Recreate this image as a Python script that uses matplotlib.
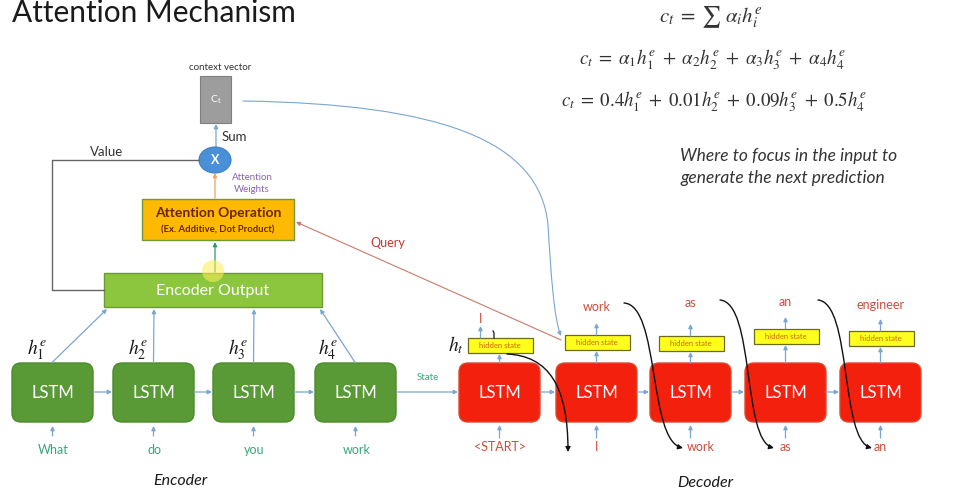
import matplotlib.pyplot as plt
from matplotlib.patches import FancyBboxPatch, Rectangle, Ellipse, Circle, FancyArrowPatch
from matplotlib.path import Path

plt.rcParams['font.family'] = ['Lato', 'DejaVu Sans']
plt.rcParams['mathtext.fontset'] = 'stix'

# content
encoder_words = ["What", "do", "you", "work"]
decoder_inputs = ["<START>", "I", "work", "as", "an"]
decoder_outputs = ["I", "work", "as", "an", "engineer"]
h_labels = [r"$h_1^e$", r"$h_2^e$", r"$h_3^e$", r"$h_4^e$"]
weights = ["0.4", "0.01", "0.09", "0.5"]

# layout (pixel coords of the slide)
enc_x = [12, 113, 213, 315]
dec_x = [459, 556, 650, 745, 840]
hs_y = [338, 335, 336, 329, 331]
out_y = [319, 307, 303, 302, 305]
box_w, box_top, box_h = 81, 363, 59

BLUE = '#7aa6d0'
fig = plt.figure(figsize=(9.8, 5.0), dpi=100)
ax = fig.add_axes([0, 0, 1, 1])
ax.set_xlim(0, 980)
ax.set_ylim(500, 0)
ax.axis('off')


def arrow(x0, y0, x1, y1, color=BLUE, lw=0.9, ms=6):
    ax.add_patch(FancyArrowPatch((x0, y0), (x1, y1), arrowstyle='-|>',
                                 mutation_scale=ms, color=color, lw=lw,
                                 shrinkA=0, shrinkB=0))


def curve(pts, color, lw=1.0, ms=7):
    codes = [Path.MOVETO] + [Path.CURVE4] * (len(pts) - 1)
    ax.add_patch(FancyArrowPatch(path=Path(pts, codes), arrowstyle='-|>',
                                 mutation_scale=ms, color=color, lw=lw))


ax.text(12, 13, "Attention Mechanism", fontsize=21.5, color='#1a1a1a',
        va='center', ha='left')

# equations
SP = r"\;"
ax.text(711, 17, r"$c_t" + SP + "=" + SP + r"\sum\;\alpha_i h_i^e$", fontsize=15,
        color='#333333', ha='center', va='center')
terms = (SP + "+" + SP).join(r"\alpha_%d h_%d^e" % (i + 1, i + 1) for i in range(4))
ax.text(713, 60, r"$c_t" + SP + "=" + SP + terms + "$", fontsize=13.8, color='#333333',
        ha='center', va='center')
terms = (SP + "+" + SP).join(r"%sh_%d^e" % (w, i + 1) for i, w in enumerate(weights))
ax.text(714, 102, r"$c_t" + SP + "=" + SP + terms + "$", fontsize=13.6, color='#333333',
        ha='center', va='center')
ax.text(680, 156, "Where to focus in the input to", fontsize=12.5, style='italic',
        color='#333333', va='center')
ax.text(680, 178, "generate the next prediction", fontsize=12.5, style='italic',
        color='#333333', va='center')

# context vector
ax.text(220, 68, "context vector", fontsize=7, color='#333333', ha='center', va='center')
ax.add_patch(Rectangle((200, 76), 31, 47, fc='#9d9d9d', ec='#7f7f7f', lw=0.8))
ax.text(215.5, 100, r"$\mathregular{C_t}$", fontsize=7.5, color='white', ha='center', va='center')
arrow(216, 148, 216, 124)
ax.text(222, 137, "Sum", fontsize=9.5, color='#333333', va='center')

# multiply node
ax.add_patch(Ellipse((215, 160), 32, 26, fc='#4a90d9', ec='#3f7fc0', lw=0.8))
ax.text(215, 160, "X", fontsize=9, color='white', ha='center', va='center', fontweight='bold')
ax.plot([199, 52, 52, 104], [160, 160, 290, 290], color='#666666', lw=1.0)
ax.text(90, 152, "Value", fontsize=9.5, color='#333333', va='center')
ax.text(252, 178, "Attention", fontsize=7, color='#8a63b0', ha='center', va='center')
ax.text(252, 190, "Weights", fontsize=7, color='#8a63b0', ha='center', va='center')
arrow(215, 198, 215, 173, color='#f0a060')

# attention operation
ax.add_patch(Rectangle((142, 199), 152, 41, fc='#ffb900', ec='#6f9a3a', lw=1.0))
ax.text(218, 213, "Attention Operation", fontsize=10, fontweight='bold',
        color='#6b2400', ha='center', va='center')
ax.text(218, 230, "(Ex. Additive, Dot Product)", fontsize=6.8, fontweight='bold',
        color='#6b2400', ha='center', va='center')
arrow(215, 272, 215, 242, color='#2e9a6a')

# encoder output
ax.add_patch(Rectangle((104, 273), 218, 34, fc='#8cc63f', ec='#6a9a30', lw=1.0))
ax.add_patch(Circle((213, 271), 11, fc='#ffee55', ec='none', alpha=0.55))
ax.text(213, 291, "Encoder Output", fontsize=11.5, color='white', ha='center', va='center')

# encoder LSTMs
tops = [(107, 309), (154, 309), (254, 309), (320, 309)]
for i, x in enumerate(enc_x):
    cx = x + box_w / 2
    ax.add_patch(FancyBboxPatch((x, box_top), box_w, box_h,
                                boxstyle='round,pad=0,rounding_size=9',
                                fc='#5a9a36', ec='#4b8a2b', lw=1.0))
    ax.text(cx, box_top + box_h / 2, "LSTM", fontsize=12, color='white',
            ha='center', va='center')
    arrow(cx - 1 if i == 0 else cx, box_top, tops[i][0], tops[i][1])
    ax.text(cx - 16 if i < 3 else cx - 28, 350, h_labels[i], fontsize=14,
            color='#1a1a1a', ha='center', va='center')
    arrow(cx, 436, cx, 426)
    ax.text(cx + 1, 450, encoder_words[i], fontsize=9, color='#3aa57a',
            ha='center', va='center')
    if i < 3:
        arrow(x + box_w, 392, enc_x[i + 1] - 1, 392)
ax.text(180, 481, "Encoder", fontsize=11.5, style='italic', color='#1a1a1a',
        ha='center', va='center')

# state handoff
arrow(397, 392, dec_x[0] - 1, 392)
ax.text(428, 377, "State", fontsize=7, color='#3aa57a', ha='center', va='center')

# decoder LSTMs
for i, x in enumerate(dec_x):
    cx = x + box_w / 2
    ax.add_patch(FancyBboxPatch((x, box_top), box_w, box_h,
                                boxstyle='round,pad=0,rounding_size=9',
                                fc='#f2200c', ec='#d84a30', lw=1.0))
    ax.text(cx, box_top + box_h / 2, "LSTM", fontsize=12, color='white',
            ha='center', va='center')
    if i < 4:
        arrow(x + box_w, 392, dec_x[i + 1] - 1, 392)
    # hidden state
    hy = hs_y[i]
    ax.add_patch(Rectangle((cx - 32, hy), 65, 15, fc='#ffff1e', ec='#6b6b1e', lw=0.9))
    ax.text(cx, hy + 7.5, "hidden state", fontsize=5.5, color='#cc6a00',
            ha='center', va='center')
    arrow(cx, box_top, cx, hy + 16)
    ox = cx - 19 if i == 0 else cx
    arrow(ox, hy, ox, hy - 12)
    ax.text(ox, out_y[i], decoder_outputs[i], fontsize=9, color='#d04a3a',
            ha='center', va='center')
    arrow(cx, 438, cx, 425)
    ax.text(cx + (10 if i == 2 else 0), 447, decoder_inputs[i], fontsize=9,
            color='#d04a3a', ha='center', va='center')
ax.text(456, 345, r"$h_t$", fontsize=14, color='#1a1a1a', ha='center', va='center')
ax.plot([493, 494, 494], [331, 333, 338], color='#1a1a1a', lw=0.9)
ax.text(705, 483, "Decoder", fontsize=11.5, style='italic', color='#1a1a1a',
        ha='center', va='center')

# feedback of predictions
curve([(507, 354), (548, 356), (568, 385), (568, 452)], '#111111')
curve([(624, 303), (660, 305), (648, 440), (683, 448)], '#111111')
curve([(720, 300), (755, 303), (742, 440), (774, 448)], '#111111')
curve([(818, 300), (852, 303), (840, 440), (872, 448)], '#111111')

# context vector -> decoder, query -> attention
curve([(243, 101), (440, 104), (540, 140), (548, 225),
       (551, 275), (554, 318), (561, 336)], BLUE, lw=0.8, ms=6)
arrow(561, 340, 296, 222, color='#c87a6a', lw=0.8)
ax.text(388, 243, "Query", fontsize=9, color='#c0392b', ha='center', va='center')

fig.savefig('out.png', dpi=100)
